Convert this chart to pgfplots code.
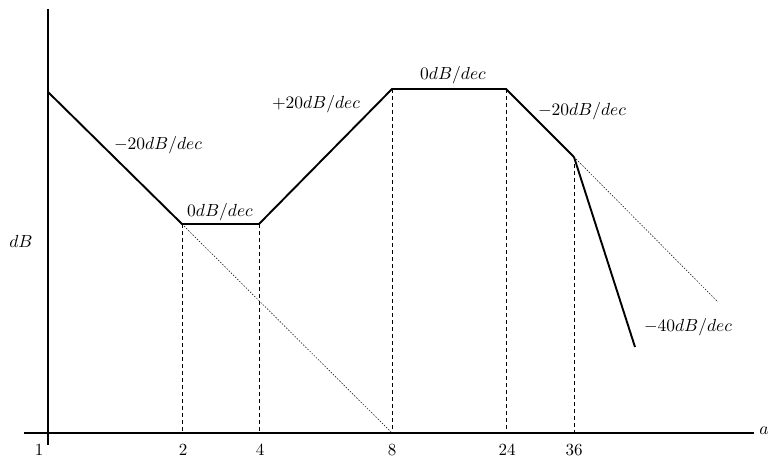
\documentclass[border=0pt]{standalone}
\usepackage{pgfplots}
\pgfplotsset{compat=1.18}
\tikzset{lab/.style={scale=1.75, transform shape, inner sep=0pt},
         tl/.style={scale=1.7, transform shape, inner sep=0pt}}
\begin{document}
\begin{tikzpicture}
\begin{axis}[
  name=ax,
  scale only axis,
  width=770pt, height=433pt,
  xmin=0, xmax=770, ymin=0, ymax=433,
  clip=false,
  axis line style={draw=none},
  tick style={draw=none},
  ytick=\empty,
  xtick=\empty,
]
% axes
\addplot[black, line width=1.3pt] coordinates {(24,0) (754,0)};
\addplot[black, line width=1.3pt] coordinates {(48,424) (48,-12)};
% dashed verticals
\addplot[black, line width=0.8pt, dash pattern=on 4pt off 3pt] coordinates {(182,209) (182,0)};
\addplot[black, line width=0.8pt, dash pattern=on 4pt off 3pt] coordinates {(259,209) (259,0)};
\addplot[black, line width=0.8pt, dash pattern=on 4pt off 3pt] coordinates {(392,344) (392,0)};
\addplot[black, line width=0.8pt, dash pattern=on 4pt off 3pt] coordinates {(506,344) (506,0)};
\addplot[black, line width=0.8pt, dash pattern=on 4pt off 3pt] coordinates {(574,276) (574,0)};
% dotted extensions
\addplot[black, line width=0.5pt, dash pattern=on 1.5pt off 1.5pt] coordinates {(182,209) (392,0)};
\addplot[black, line width=0.5pt, dash pattern=on 1.5pt off 1.5pt] coordinates {(574,276) (718,131)};
% asymptotic magnitude
\addplot[black, line width=1.9pt, line join=miter] coordinates {(48,341) (182,209) (259,209) (392,344) (506,344) (574,276)};
\addplot[black, line width=1.9pt] coordinates {(574,276) (635,86)};
% tick labels
\node[tl] at (axis cs:39,-17) {$1$};
\node[tl] at (axis cs:183,-17) {$2$};
\node[tl] at (axis cs:260,-17) {$4$};
\node[tl] at (axis cs:392,-17) {$8$};
\node[tl] at (axis cs:507,-17) {$24$};
\node[tl] at (axis cs:574,-17) {$36$};
% labels
\node[lab] at (axis cs:158,288) {$-20dB/dec$};
\node[lab] at (axis cs:220,221) {$0dB/dec$};
\node[lab] at (axis cs:316,329) {$+20dB/dec$};
\node[lab] at (axis cs:453,358) {$0dB/dec$};
\node[lab] at (axis cs:582,322) {$-20dB/dec$};
\node[lab] at (axis cs:688,106) {$-40dB/dec$};
\node[lab] at (axis cs:21,192) {$dB$};
\node[lab] at (axis cs:764,2) {$a$};
\end{axis}
\pgfresetboundingbox
\path ([yshift=-28pt]ax.south west) rectangle (ax.north east);
\end{tikzpicture}
\end{document}
